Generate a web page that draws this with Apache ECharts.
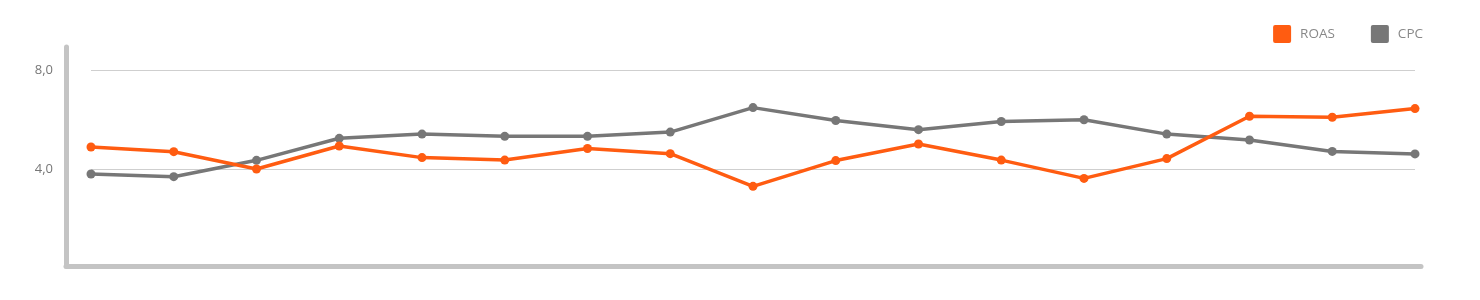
<!DOCTYPE html>
<html>
<head>
<meta charset="utf-8">
<script src="https://cdn.jsdelivr.net/npm/echarts@6/dist/echarts.min.js"></script>
<style>
html,body{margin:0;padding:0;background:#fff;}
#chart{width:1480px;height:300px;}
</style>
</head>
<body>
<div id="chart"></div>
<script>
var categories = ['1','2','3','4','5','6','7','8','9','10','11','12','13','14','15','16','17'];
var roas = [4.89, 4.70, 4.00, 4.93, 4.46, 4.36, 4.83, 4.62, 3.30, 4.34, 5.01, 4.36, 3.62, 4.42, 6.13, 6.09, 6.44];
var cpc  = [3.80, 3.69, 4.35, 5.24, 5.41, 5.32, 5.32, 5.49, 6.48, 5.96, 5.59, 5.92, 5.99, 5.41, 5.17, 4.71, 4.61];
var yTicks = [4, 8];

var chart = echarts.init(document.getElementById('chart'));
var font = '"Open Sans", sans-serif';
var squareIcon = 'path://M2,0L16,0Q18,0 18,2L18,16Q18,18 16,18L2,18Q0,18 0,16L0,2Q0,0 2,0Z';
chart.setOption({
  animation: false,
  textStyle: { fontFamily: font },
  legend: {
    data: ['ROAS', 'CPC'],
    right: 57, top: 25, padding: 0,
    icon: squareIcon,
    itemWidth: 18, itemHeight: 18, itemGap: 36,
    textStyle: { color: '#888', fontSize: 13.5, fontFamily: font, padding: [0, 0, 0, 4] }
  },
  grid: [
    { left: 91, right: 65, top: 70, bottom: 32 },
    { left: 66, right: 59, top: 47, bottom: 34 }
  ],
  xAxis: [
    { type: 'category', gridIndex: 0, data: categories, boundaryGap: false,
      axisLine: { show: false }, axisTick: { show: false }, axisLabel: { show: false }, splitLine: { show: false } },
    { type: 'value', gridIndex: 1, min: 0, max: 1,
      axisLine: { show: true, lineStyle: { color: '#c4c4c4', width: 5, cap: 'round' } },
      axisTick: { show: false }, axisLabel: { show: false }, splitLine: { show: false } }
  ],
  yAxis: [
    { type: 'value', gridIndex: 0, min: 0, max: 8, interval: 4,
      axisLine: { show: false }, axisTick: { show: false },
      axisLabel: { margin: 38, color: '#777', fontSize: 13, fontFamily: font,
        formatter: function (v) { return yTicks.indexOf(v) >= 0 ? v.toFixed(1).replace('.', ',') : ''; } },
      splitLine: { show: true, lineStyle: { color: '#cfcfcf', width: 1 } } },
    { type: 'value', gridIndex: 1, min: 0, max: 1,
      axisLine: { show: true, lineStyle: { color: '#c4c4c4', width: 5, cap: 'round' } },
      axisTick: { show: false }, axisLabel: { show: false }, splitLine: { show: false } }
  ],
  series: [
    { name: 'CPC', type: 'line', data: cpc, xAxisIndex: 0, yAxisIndex: 0,
      symbol: 'circle', symbolSize: 9, z: 2,
      itemStyle: { color: '#777777' }, lineStyle: { color: '#777777', width: 3.5 } },
    { name: 'ROAS', type: 'line', data: roas, xAxisIndex: 0, yAxisIndex: 0,
      symbol: 'circle', symbolSize: 9, z: 3,
      itemStyle: { color: '#ff5c11' }, lineStyle: { color: '#ff5c11', width: 3.5 } }
  ]
});
</script>
</body>
</html>
